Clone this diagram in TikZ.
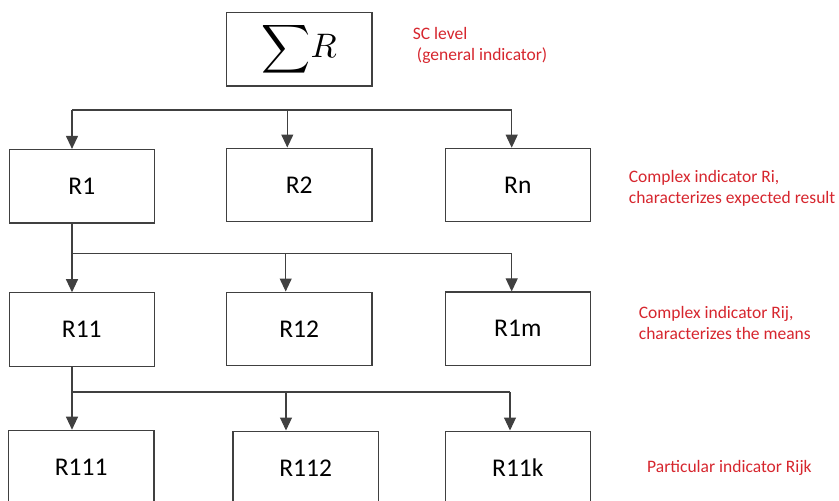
\documentclass[tikz,border=0pt]{standalone}
\usepackage{graphicx}
\usepackage{fontspec}
\setmainfont{Carlito}
\usetikzlibrary{arrows.meta}
\definecolor{notered}{RGB}{214,38,46}
\definecolor{linegray}{RGB}{64,64,64}
\begin{document}
\begin{tikzpicture}[x=1pt,y=-1pt,
  box/.style={draw=linegray, line width=1.1pt, minimum width=145.5pt,
    minimum height=73.5pt, inner sep=0pt, font=\fontsize{25.5}{30}\selectfont},
  bus/.style={draw=linegray, line width=1.1pt},
  arr/.style={bus, -{Triangle[width=12pt,length=13pt]}},
  note/.style={text=notered, font=\fontsize{17.5}{21}\selectfont,
    align=left, anchor=base west, inner sep=0pt}]
\useasboundingbox (0,0) rectangle (839,501);
\clip (0,0) rectangle (839,501);

% general indicator
\node[box] (top) at (299.2,49.2)
  {\fontsize{10}{12}\selectfont\scalebox{3.4}{$\displaystyle\sum\mkern-3mu R$}};

% complex indicators Ri
\node[box] (r1) at (81.8,186.2) {\raisebox{-3pt}{R1}};
\node[box] (r2) at (299.2,184.8) {\raisebox{-3pt}{R2}};
\node[box] (rn) at (517.8,185) {\raisebox{-3pt}{Rn}};

% complex indicators Rij
\node[box] (r11) at (81.8,329.5) {\raisebox{-2pt}{R11}};
\node[box] (r12) at (299.2,328.8) {\raisebox{-2pt}{R12}};
\node[box] (r1m) at (517.8,328.7) {\raisebox{-2pt}{R1m}};

% particular indicators Rijk
\node[box] (r111) at (81.2,467) {\raisebox{-1pt}{R111}};
\node[box] (r112) at (305.7,467.8) {\raisebox{-1pt}{R112}};
\node[box] (r11k) at (517.8,467.8) {\raisebox{-1pt}{R11k}};

% bus junctions
\coordinate (a1) at (72,110);
\coordinate (a2) at (287.3,110);
\coordinate (a3) at (511.7,110);
\coordinate (b1) at (72,253.3);
\coordinate (b2) at (285.7,253.3);
\coordinate (b3) at (511.7,253.3);
\coordinate (c1) at (72,392);
\coordinate (c2) at (286,392);
\coordinate (c3) at (510,392);

% level 1 branches
\draw[bus] (a1) -- (a3);
\draw[arr] (a1) -- (a1 |- r1.north);
\draw[arr] (a2) -- (a2 |- r2.north);
\draw[arr] (a3) -- (a3 |- rn.north);

% level 2 branches
\draw[bus] (b1 |- r1.south) -- (b1) -- (b3);
\draw[arr] (b1) -- (b1 |- r11.north);
\draw[arr] (b2) -- (b2 |- r12.north);
\draw[arr] (b3) -- (b3 |- r1m.north);

% level 3 branches
\draw[bus] (c1 |- r11.south) -- (c1) -- (c3);
\draw[arr] (c1) -- (c1 |- r111.north);
\draw[arr] (c2) -- (c2 |- r112.north);
\draw[arr] (c3) -- (c3 |- r11k.north);

% level notes (anchored at the baseline of their last line)
\node[note] (n0) at (412.7,60) {SC level\\\hspace*{4pt}(general indicator)};
\node[note] (n1) at (628.7,203.5) {Complex indicator Ri,\\characterizes expected result};
\node[note] (n2) at (638.7,339) {Complex indicator Rij,\\characterizes the means};
\node[note] (n3) at (647,472.7) {Particular indicator Rijk};
\end{tikzpicture}
\end{document}
